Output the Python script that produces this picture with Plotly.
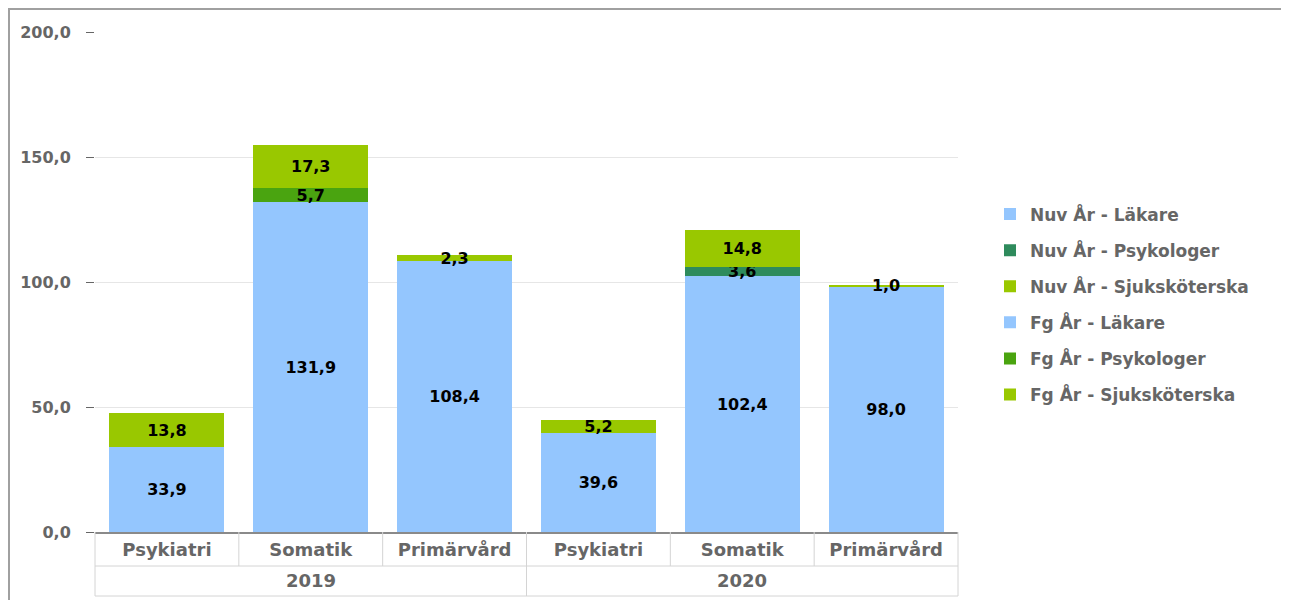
import plotly.graph_objects as go

years = ["2019", "2019", "2019", "2020", "2020", "2020"]
units = ["Psykiatri", "Somatik", "Primärvård", "Psykiatri", "Somatik", "Primärvård"]

# Fg År = 2019, Nuv År = 2020
fg_lakare = [33.9, 131.9, 108.4, None, None, None]
fg_psykologer = [None, 5.7, None, None, None, None]
fg_sjukskoterska = [13.8, 17.3, 2.3, None, None, None]
nuv_lakare = [None, None, None, 39.6, 102.4, 98.0]
nuv_psykologer = [None, None, None, None, 3.6, None]
nuv_sjukskoterska = [None, None, None, 5.2, 14.8, 1.0]

c_lakare = "#94C6FE"
c_sjuk = "#99C800"
c_psyk_nuv = "#2E8B5C"
c_psyk_fg = "#4AA410"

series = [
    ("Nuv År - Läkare", nuv_lakare, c_lakare),
    ("Nuv År - Psykologer", nuv_psykologer, c_psyk_nuv),
    ("Nuv År - Sjuksköterska", nuv_sjukskoterska, c_sjuk),
    ("Fg År - Läkare", fg_lakare, c_lakare),
    ("Fg År - Psykologer", fg_psykologer, c_psyk_fg),
    ("Fg År - Sjuksköterska", fg_sjukskoterska, c_sjuk),
]

# unique category keys so the repeated unit names stay separate
keys = [f"{y} {u}" for y, u in zip(years, units)]


def fmt(v):
    return "" if v is None else f"{v:.1f}".replace(".", ",")


fig = go.Figure()
for name, vals, col in series:
    fig.add_trace(go.Bar(
        name=name,
        legendgroup=name,
        x=keys,
        y=vals,
        marker=dict(color=col, line=dict(width=0)),
        text=[fmt(v) for v in vals],
        textposition="inside",
        insidetextanchor="middle",
        constraintext="none",
        textangle=0,
        textfont=dict(family="DejaVu Sans", size=16, color="#000000", weight="bold"),
        hoverinfo="skip",
    ))

grey = "#666666"
W, H = 1278, 592
L, R, T, B = 87, 328, 24, 68
pw, ph = W - L - R, H - T - B

fig.update_layout(
    barmode="stack",
    bargap=0.2,
    width=W,
    height=H,
    separators=",.",
    paper_bgcolor="white",
    plot_bgcolor="white",
    margin=dict(l=L, r=R, t=T, b=B),
    font=dict(family="DejaVu Sans", color=grey, size=17, weight="bold"),
    legend=dict(
        x=(990 - 8 - L) / pw, y=0.455, yanchor="middle", xanchor="left",
        font=dict(family="DejaVu Sans", size=17, color=grey, weight="bold"),
        traceorder="grouped", tracegroupgap=11,
    ),
    yaxis=dict(
        range=[0, 200], dtick=50, tickformat=".1f",
        showgrid=True, gridcolor="#e6e6e6", gridwidth=1,
        ticks="outside", ticklen=8, tickcolor=grey, tickwidth=1,
        ticklabelstandoff=12,
        zeroline=False, showline=False,
        tickfont=dict(family="DejaVu Sans", size=16, color=grey, weight="bold"),
    ),
    xaxis=dict(
        type="category", categoryorder="array", categoryarray=keys,
        tickmode="array", tickvals=keys, ticktext=units,
        showline=True, linecolor="#8a8a8a", linewidth=2, ticks="",
        showgrid=False,
        tickfont=dict(family="DejaVu Sans", size=18, color=grey, weight="bold"),
    ),
)

# year labels under each group
for yr in dict.fromkeys(years):
    idx = [i for i, y in enumerate(years) if y == yr]
    fig.add_annotation(
        x=(idx[0] + idx[-1]) / 2, xref="x", y=-48 / ph, yref="paper",
        text=yr, showarrow=False, yanchor="middle",
        font=dict(family="DejaVu Sans", size=18, color=grey, weight="bold"),
    )

# table-style axis label grid and outer frame
line = dict(color="#d4d4d4", width=1)
row1 = -34 / ph
row2 = -64 / ph
n = len(keys)
for i in range(n + 1):
    fig.add_shape(type="line", xref="paper", yref="paper", x0=i / n, x1=i / n,
                  y0=0, y1=row1, line=line)
for i in (0, n // 2, n):
    fig.add_shape(type="line", xref="paper", yref="paper", x0=i / n, x1=i / n,
                  y0=row1, y1=row2, line=line)
fig.add_shape(type="line", xref="paper", yref="paper", x0=0, x1=1, y0=row1, y1=row1, line=line)
fig.add_shape(type="line", xref="paper", yref="paper", x0=0, x1=1, y0=row2, y1=row2, line=line)
fig.add_shape(type="rect", xref="paper", yref="paper",
              x0=(1 - L) / pw, x1=(W - 1 - L) / pw,
              y0=-(B + 20) / ph, y1=(ph + T - 1) / ph,
              line=dict(color="#a0a0a0", width=2))

fig.write_html("out.html")
